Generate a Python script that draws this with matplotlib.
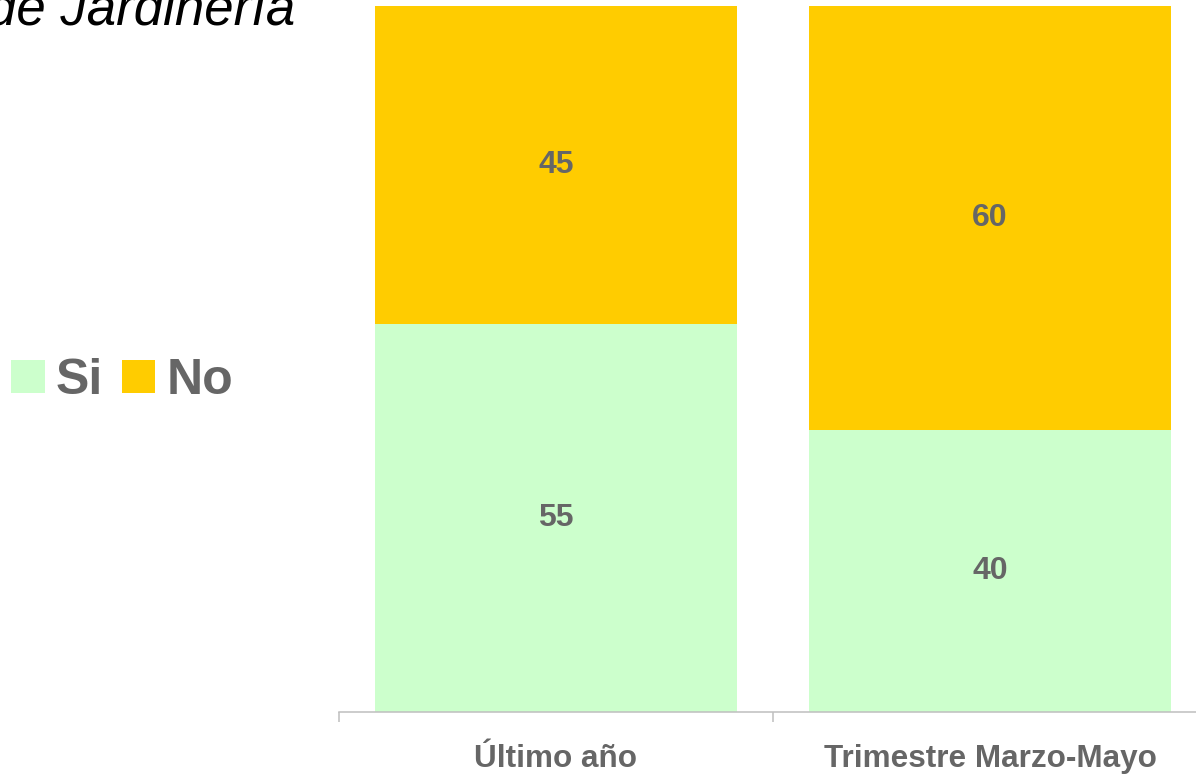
import numpy as np
import matplotlib.pyplot as plt

categories = ['Último año', 'Trimestre Marzo-Mayo']
si_vals = [55, 40]
no_vals = [45, 60]
series_names = ['Si', 'No']

plt.rcParams['font.family'] = ['Liberation Sans', 'DejaVu Sans']

green = '#CCFFCC'
yellow = '#FFCC00'
gray = '#666666'

W, H = 1196, 774
fig = plt.figure(figsize=(W / 100, H / 100), dpi=100)
# axes spans category boundaries; the right edge runs past the canvas
ax = fig.add_axes([339 / W, (H - 712) / H, (1207 - 339) / W, (712 - 6) / H])

x = np.arange(len(categories))
width = 0.834
b1 = ax.bar(x, si_vals, width, color=green, label=series_names[0])
b2 = ax.bar(x, no_vals, width, bottom=si_vals, color=yellow, label=series_names[1])

for bars, vals, bottoms in [(b1, si_vals, [0, 0]), (b2, no_vals, si_vals)]:
    for rect, v, b in zip(bars, vals, bottoms):
        ax.text(rect.get_x() + rect.get_width() / 2, b + v / 2, '{}'.format(v),
                ha='center', va='center', fontsize=23, fontweight='bold', color=gray)

ax.set_xlim(-0.5, 1.5)
ax.set_ylim(0, 100)
ax.set_yticks([])
for s in ['top', 'right', 'left']:
    ax.spines[s].set_visible(False)
ax.spines['bottom'].set_color('#BFBFBF')
ax.spines['bottom'].set_linewidth(1.1)

ax.set_xticks(x)
ax.set_xticklabels(categories, fontsize=22.7, fontweight='bold', color=gray)
ax.tick_params(axis='x', which='major', length=0, pad=23)
ax.set_xticks([-0.5, 0.5, 1.5], minor=True)
ax.tick_params(axis='x', which='minor', length=7.5, width=1.1, color='#BFBFBF')

fig.legend(handles=[b1, b2], labels=series_names, loc='center left',
           bbox_to_anchor=(11 / W, (H - 381) / H), ncol=2, frameon=False,
           borderpad=0, borderaxespad=0, handlelength=0.67, handleheight=0.65,
           handletextpad=0.22, columnspacing=0.38,
           prop={'size': 36, 'weight': 'bold'}, labelcolor=gray)

fig.text(295 / W, (H - 25.5) / H, 'de Jardinería', ha='right', va='baseline',
         fontsize=38, fontstyle='italic', color='black')

fig.savefig('out.png', dpi=100)
